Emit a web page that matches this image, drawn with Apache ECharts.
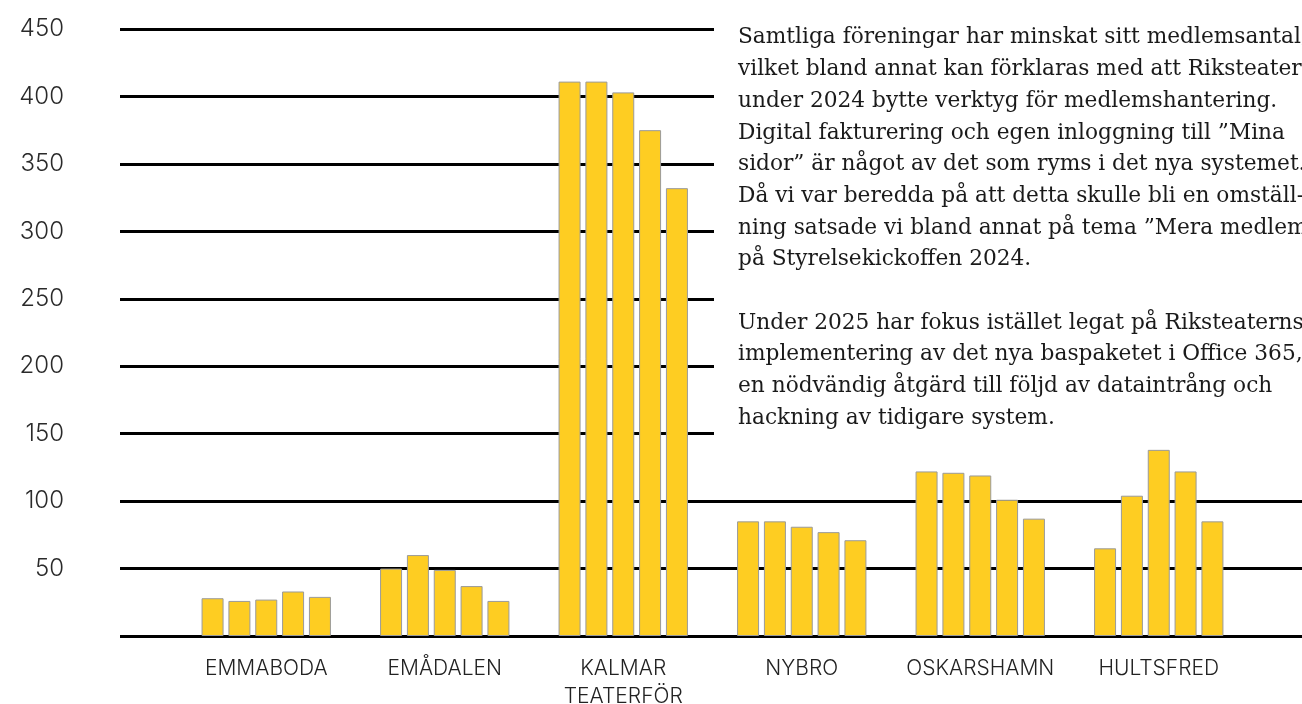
<!DOCTYPE html>
<html>
<head>
<meta charset="utf-8">
<title>Medlemsantal per förening</title>
<script src="https://cdn.jsdelivr.net/npm/echarts@6/dist/echarts.min.js"></script>
<style>
html, body { margin: 0; padding: 0; background: #fff; }
#chart { width: 1302px; height: 704px; }
</style>
</head>
<body>
<div id="chart"></div>
<script>
// föreningar och medlemsantal, fem år per förening
var categories = ['EMMABODA', 'EMÅDALEN', 'KALMAR\nTEATERFÖR', 'NYBRO', 'OSKARSHAMN', 'HULTSFRED'];
var years = ['2021', '2022', '2023', '2024', '2025'];
var v2021 = [28, 50, 411, 85, 122, 65];
var v2022 = [26, 60, 411, 85, 121, 104];
var v2023 = [27, 49, 403, 81, 119, 138];
var v2024 = [33, 37, 375, 77, 101, 122];
var v2025 = [29, 26, 332, 71, 87, 85];
var yMin = 0, yMax = 450, yStep = 50;

var textLines = [
	'Samtliga föreningar har minskat sitt medlemsantal,',
	'vilket bland annat kan förklaras med att Riksteatern',
	'under 2024 bytte verktyg för medlemshantering.',
	'Digital fakturering och egen inloggning till ”Mina',
	'sidor” är något av det som ryms i det nya systemet.',
	'Då vi var beredda på att detta skulle bli en omställ-',
	'ning satsade vi bland annat på tema ”Mera medlemmar”',
	'på Styrelsekickoffen 2024.',
	'',
	'Under 2025 har fokus istället legat på Riksteaterns',
	'implementering av det nya baspaketet i Office 365,',
	'en nödvändig åtgärd till följd av dataintrång och',
	'hackning av tidigare system.'
];

var yearData = [v2021, v2022, v2023, v2024, v2025];
var series = years.map(function (y, i) {
	return {
		name: y,
		type: 'bar',
		xAxisIndex: 1,
		yAxisIndex: 1,
		data: yearData[i],
		barWidth: 22,
		barGap: '22%',
		z: 3,
		itemStyle: {
			color: '#FECD22',
			borderColor: '#9a9a9a',
			borderWidth: 1
		}
	};
});

var chart = echarts.init(document.getElementById('chart'));
var option = {
	backgroundColor: '#fff',
	animation: false,
	grid: [
		// gridlines, full width
		{ left: 120, right: 0, top: 29, bottom: 68, outerBoundsMode: 'none' },
		// bars
		{ left: 177, right: 54, top: 29, bottom: 68, outerBoundsMode: 'none' }
	],
	xAxis: [
		{ gridIndex: 0, type: 'value', min: 0, max: 1, show: false },
		{
			gridIndex: 1,
			type: 'category',
			data: categories,
			axisLine: { show: false },
			axisTick: { show: false },
			axisLabel: {
				interval: 0,
				hideOverlap: false,
				color: '#222',
				fontFamily: 'Inter',
				fontWeight: 300,
				fontSize: 21,
				lineHeight: 28,
				margin: 19
			}
		}
	],
	yAxis: [
		{
			gridIndex: 0,
			type: 'value',
			min: yMin,
			max: yMax,
			interval: yStep,
			axisLine: { show: false },
			axisTick: { show: false },
			axisLabel: {
				color: '#2a2a2a',
				fontFamily: 'Inter',
				fontWeight: 300,
				fontSize: 24,
				margin: 56,
				formatter: function (v) { return v === 0 ? '' : v; }
			},
			splitLine: { show: true, lineStyle: { color: '#000', width: 3 } }
		},
		{ gridIndex: 1, type: 'value', min: yMin, max: yMax, interval: yStep, show: false, splitLine: { show: false } }
	],
	graphic: [
		{
			type: 'rect',
			z: 1,
			shape: { x: 714, y: 0, width: 588, height: 446 },
			style: { fill: '#fff' }
		},
		{
			type: 'text',
			z: 5,
			left: 738,
			top: 22,
			style: {
				text: textLines.join('\n'),
				fill: '#1a1a1a',
				font: '21.7px "DejaVu Serif"',
				lineHeight: 31.7
			}
		}
	],
	series: series
};
chart.setOption(option);
</script>
</body>
</html>
